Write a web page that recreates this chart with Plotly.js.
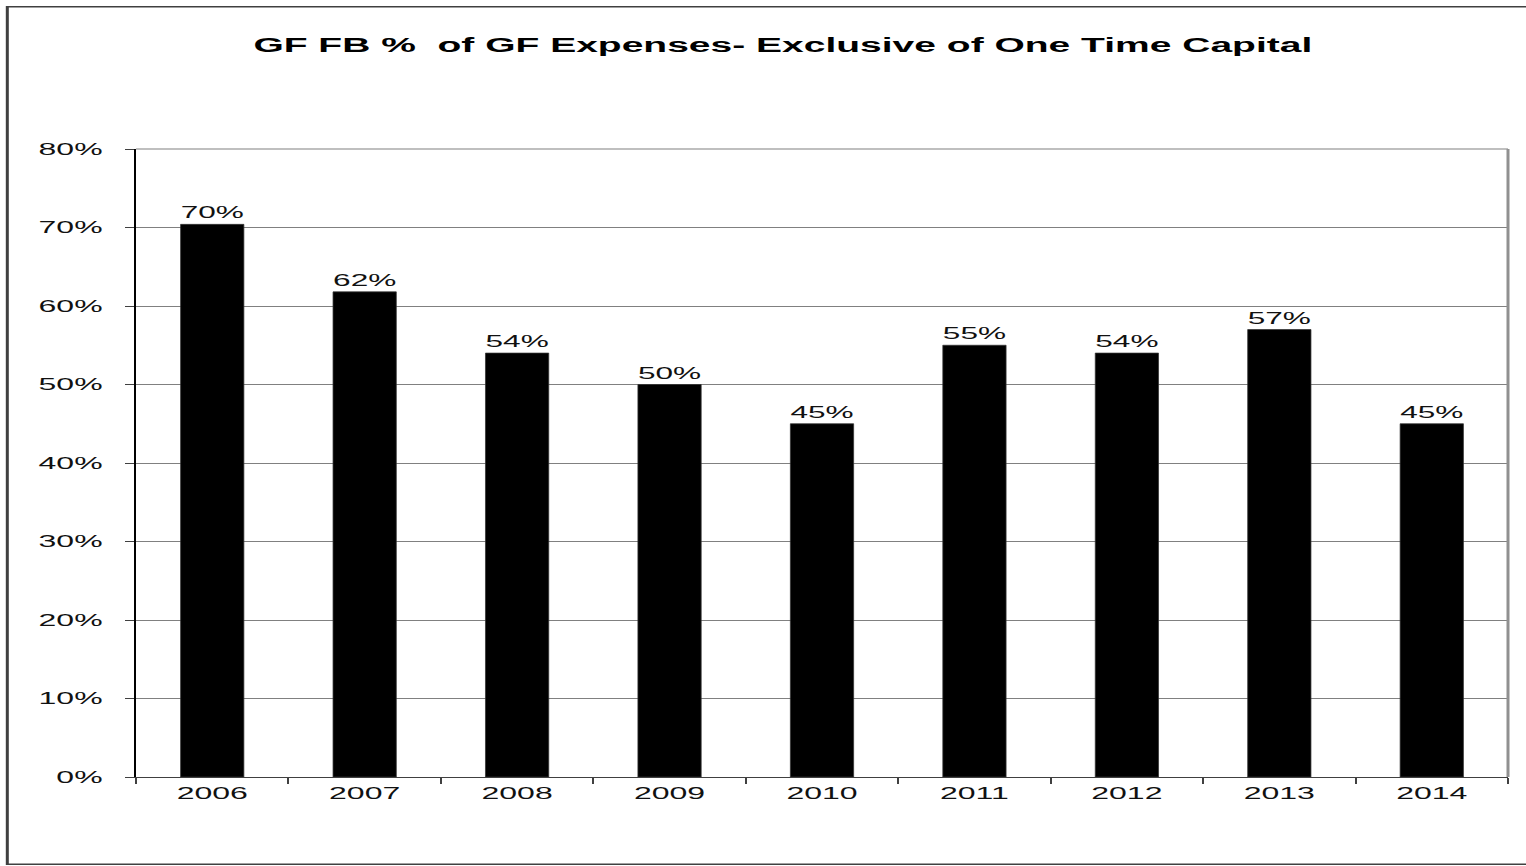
<!DOCTYPE html>
<html>
<head>
<meta charset="utf-8">
<script src="https://cdn.plot.ly/plotly-3.0.1.min.js"></script>
<style>
  html, body { margin: 0; padding: 0; background: #ffffff; overflow: hidden; }
  /* the chart is laid out at half width and widened to fill the page */
  #chart { width: 763px; height: 866px; transform: scaleX(2); transform-origin: 0 0; }
</style>
</head>
<body>
<div id="chart"></div>
<script>
// Fund balance as a share of general fund expenses, by fiscal year
const years = ["2006", "2007", "2008", "2009", "2010", "2011", "2012", "2013", "2014"];
const fbShare = [0.704, 0.618, 0.54, 0.50, 0.45, 0.55, 0.54, 0.57, 0.45];
const yTickVals = [0, 0.1, 0.2, 0.3, 0.4, 0.5, 0.6, 0.7, 0.8];
const chartTitle = "GF FB %  of GF Expenses- Exclusive of One Time Capital";

const FONT = "Liberation Sans, Arial, sans-serif";

const trace = {
  type: "bar",
  x: years,
  y: fbShare,
  marker: { color: "#000000", line: { color: "#333333", width: 0.5 } },
  texttemplate: "%{y:.0%}",
  textposition: "outside",
  cliponaxis: false,
  textfont: { family: FONT, size: 16, color: "#111111" },
  hoverinfo: "x+y"
};

const layout = {
  width: 763,
  height: 866,
  margin: { l: 68, r: 9.25, t: 149, b: 89 },
  paper_bgcolor: "#ffffff",
  plot_bgcolor: "#ffffff",
  showlegend: false,
  bargap: 0.585,
  title: {
    text: chartTitle,
    font: { family: FONT, size: 19.5, color: "#000000", weight: "bold" },
    xref: "container",
    x: 0.513,
    xanchor: "center",
    yref: "container",
    y: 0.948,
    yanchor: "middle"
  },
  xaxis: {
    type: "category",
    showline: true,
    linecolor: "#404040",
    linewidth: 1,
    ticks: "outside",
    tickson: "boundaries",
    ticklen: 6,
    tickwidth: 1,
    tickcolor: "#404040",
    ticklabelstandoff: 2,
    showgrid: false,
    tickfont: { family: FONT, size: 16, color: "#111111" }
  },
  yaxis: {
    range: [0, 0.8],
    tickvals: yTickVals,
    tickformat: ".0%",
    showline: true,
    linecolor: "#000000",
    linewidth: 1,
    ticks: "outside",
    ticklen: 4.5,
    tickwidth: 1,
    tickcolor: "#404040",
    ticklabelstandoff: 8,
    showgrid: true,
    gridcolor: "#808080",
    gridwidth: 1,
    zeroline: false,
    tickfont: { family: FONT, size: 16, color: "#111111" }
  },
  shapes: [
    // outer frame round the whole chart
    {
      type: "rect", xref: "paper", yref: "paper",
      x0: -0.0938, x1: 1.3, y0: -0.139, y1: 1.2266,
      line: { color: "#404040", width: 1.5 },
      fillcolor: "rgba(0,0,0,0)", layer: "below"
    },
    // top edge of the plotting area at 80%
    {
      type: "line", xref: "paper", yref: "paper",
      x0: 0, x1: 1, y0: 1, y1: 1,
      line: { color: "#808080", width: 1 }, layer: "below"
    },
    // right edge of the plotting area
    {
      type: "line", xref: "paper", yref: "paper",
      x0: 1, x1: 1, y0: 0, y1: 1,
      line: { color: "#909090", width: 1.5 }
    }
  ]
};

Plotly.newPlot("chart", [trace], layout, { displayModeBar: false, staticPlot: true });
</script>
</body>
</html>
